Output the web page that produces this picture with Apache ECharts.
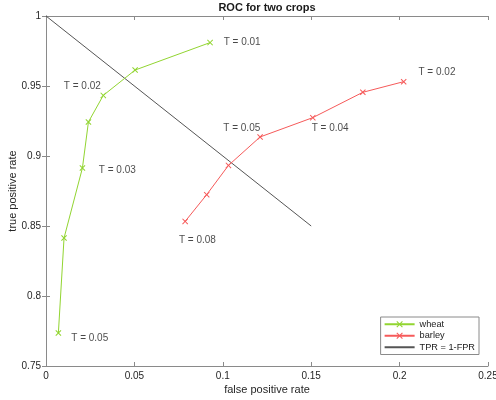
<!DOCTYPE html>
<html>
<head>
<meta charset="utf-8">
<script src="https://cdn.jsdelivr.net/npm/echarts@6/dist/echarts.min.js"></script>
<style>html,body{margin:0;padding:0;background:#fff;}#c{width:496px;height:400px;}</style>
</head>
<body>
<div id="c"></div>
<script>
// Data
var wheatFPR = [0.0070, 0.0102, 0.0206, 0.0240, 0.0324, 0.0504, 0.0928];
var wheatTPR = [0.7736, 0.8414, 0.8914, 0.9243, 0.9433, 0.9614, 0.9810];
var barleyFPR = [0.0787, 0.0909, 0.1032, 0.1211, 0.1509, 0.1792, 0.2023];
var barleyTPR = [0.8533, 0.8724, 0.8933, 0.9136, 0.9274, 0.9455, 0.9531];
var refFPR = [0, 0.15];
var refTPR = [1, 0.85];
var labelTexts = ['T = 0.01', 'T = 0.02', 'T = 0.03', 'T = 0.05', 'T = 0.02', 'T = 0.05', 'T = 0.04', 'T = 0.08'];
var labelX = [0.1002, 0.0098, 0.0296, 0.014, 0.2104, 0.100, 0.150, 0.0749];
var labelY = [0.981, 0.950, 0.890, 0.770, 0.9598, 0.920, 0.920, 0.840];
var xTicks = ['0', '0.05', '0.1', '0.15', '0.2', '0.25'];
var yTicks = ['0.75', '0.8', '0.85', '0.9', '0.95', '1'];

var FONT = '"Liberation Sans", Arial, Helvetica, sans-serif';
var GREEN = '#92d531';
var RED = '#f65a5a';
var GRAY = '#555555';
var AXIS = '#8a8a8a';
var CROSS = 'path://M0,1.2L1.2,0L5,3.8L8.8,0L10,1.2L6.2,5L10,8.8L8.8,10L5,6.2L1.2,10L0,8.8L3.8,5Z';

function zip(a, b) { return a.map(function (v, i) { return [v, b[i]]; }); }

var chart = echarts.init(document.getElementById('c'), null, {renderer: 'canvas'});
var axisCommon = {
  axisLine: {show: true, lineStyle: {color: AXIS, width: 1}},
  axisTick: {show: true, inside: true, length: 4, lineStyle: {color: AXIS}},
  splitLine: {show: false}
};
chart.setOption({
  animation: false,
  backgroundColor: '#fff',
  textStyle: {fontFamily: FONT},
  title: {
    text: 'ROC for two crops', left: 267, textAlign: 'center', top: 2, padding: 0,
    textStyle: {fontSize: 11, fontWeight: 'bold', color: '#1a1a1a', fontFamily: FONT}
  },
  grid: {left: 46, top: 16, right: 8, bottom: 34, containLabel: false, outerBoundsMode: 'none'},
  xAxis: [
    Object.assign({
      type: 'value', min: 0, max: 0.25, interval: 0.05, position: 'bottom',
      name: 'false positive rate', nameLocation: 'middle', nameGap: 18,
      nameMoveOverlap: false,
      nameTextStyle: {fontSize: 11, color: '#262626', fontFamily: FONT},
      axisLabel: {fontSize: 10, color: '#262626', margin: 5, fontFamily: FONT,
        formatter: function (v) { return xTicks[Math.round(v / 0.05)]; }}
    }, axisCommon),
    Object.assign({
      type: 'value', min: 0, max: 0.25, interval: 0.05, position: 'top',
      axisLabel: {show: false}
    }, axisCommon)
  ],
  yAxis: [
    Object.assign({
      type: 'value', min: 0.75, max: 1, interval: 0.05, position: 'left',
      name: 'true positive rate', nameLocation: 'middle', nameGap: 28,
      nameMoveOverlap: false,
      nameTextStyle: {fontSize: 11, color: '#262626', fontFamily: FONT},
      axisLabel: {fontSize: 10, color: '#262626', margin: 5, fontFamily: FONT,
        formatter: function (v) { return yTicks[Math.round((v - 0.75) / 0.05)]; }}
    }, axisCommon),
    Object.assign({
      type: 'value', min: 0.75, max: 1, interval: 0.05, position: 'right',
      axisLabel: {show: false}
    }, axisCommon)
  ],
  legend: {
    data: ['wheat', 'barley', {name: 'TPR = 1-FPR', itemStyle: {opacity: 0}}],
    orient: 'vertical', right: 17, top: 317,
    itemWidth: 30, itemHeight: 8, itemGap: 1,
    padding: [2, 4, 2, 3],
    borderColor: AXIS, borderWidth: 1, backgroundColor: '#fff',
    textStyle: {fontSize: 9.2, lineHeight: 10.5, color: '#1a1a1a', fontFamily: FONT}
  },
  series: [
    {
      name: 'wheat', type: 'line', data: zip(wheatFPR, wheatTPR),
      symbol: CROSS, symbolSize: 6, showSymbol: true,
      lineStyle: {color: GREEN, width: 1}, itemStyle: {color: GREEN}, z: 3
    },
    {
      name: 'barley', type: 'line', data: zip(barleyFPR, barleyTPR),
      symbol: CROSS, symbolSize: 6, showSymbol: true,
      lineStyle: {color: RED, width: 1}, itemStyle: {color: RED}, z: 3
    },
    {
      name: 'TPR = 1-FPR', type: 'line', data: zip(refFPR, refTPR),
      symbol: 'none', lineStyle: {color: GRAY, width: 1}, itemStyle: {color: GRAY}, z: 2
    },
    {
      name: 'labels', type: 'scatter', symbolSize: 1, itemStyle: {color: 'rgba(0,0,0,0)'},
      data: labelTexts.map(function (t, i) { return {value: [labelX[i], labelY[i]], name: t}; }),
      label: {show: true, position: 'right', distance: 0, fontSize: 10, color: '#1a1a1a', fontFamily: FONT,
        formatter: function (p) { return p.name; }},
      silent: true, z: 4
    }
  ]
});
</script>
</body>
</html>
